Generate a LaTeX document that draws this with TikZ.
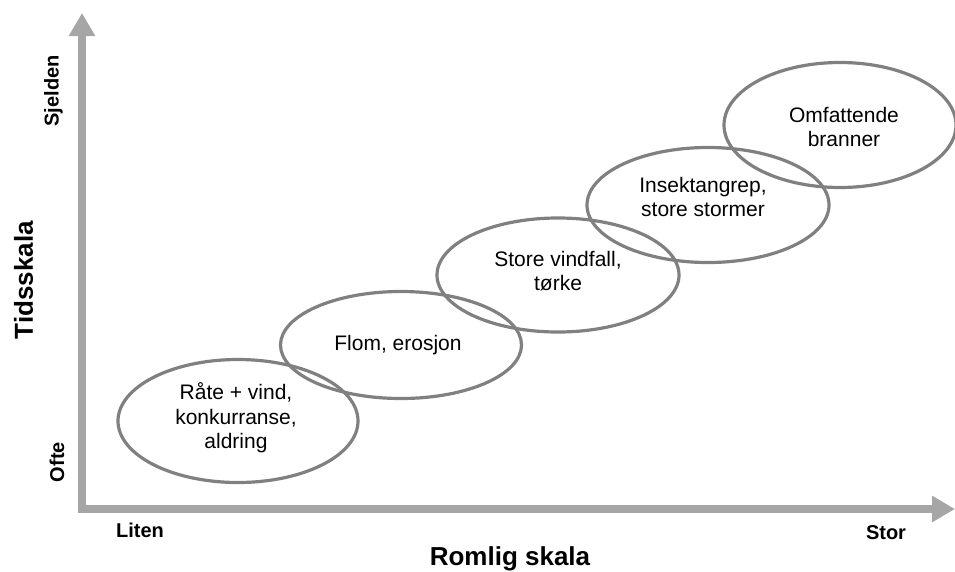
\documentclass[tikz,border=0pt]{standalone}
\usepackage{fontspec}
\setmainfont{Liberation Sans}
\usetikzlibrary{arrows.meta,shapes.geometric}
\definecolor{axisgray}{HTML}{A6A6A6}
\definecolor{ellgray}{HTML}{808080}
\begin{document}
\begin{tikzpicture}[x=1pt,y=-1pt,
  axisline/.style={draw=axisgray,line width=8pt,line join=miter,
    {Triangle[width=25pt,length=23pt]}-{Triangle[width=25pt,length=23pt]}},
  scaleell/.style={ellipse,draw=ellgray,line width=3.2pt,inner sep=0pt},
  elltext/.style={align=center,font=\fontsize{21}{24.5}\selectfont},
  axlabel/.style={font=\bfseries\fontsize{20}{24}\selectfont},
  axtitle/.style={font=\bfseries\fontsize{26}{30}\selectfont}]
\useasboundingbox (0,0) rectangle (955,571);
% axes
\coordinate (ytip) at (82,13);
\coordinate (corner) at (82,509);
\coordinate (xtip) at (955,509);
\draw[axisline] (ytip) -- (corner) -- (xtip);
% ellipses
\node[scaleell,minimum width=240pt,minimum height=123pt] (e1) at (238,421) {};
\node[scaleell,minimum width=241pt,minimum height=107pt] (e2) at (401,345) {};
\node[scaleell,minimum width=242pt,minimum height=114pt] (e3) at (558,275) {};
\node[scaleell,minimum width=242pt,minimum height=115pt] (e4) at (708,205) {};
\node[scaleell,minimum width=232pt,minimum height=125pt] (e5) at (840,125) {};
% texts
\node[elltext] (t1) at (236,418) {Råte + vind,\\konkurranse,\\aldring};
\node[elltext] (t2) at (398,345) {Flom, erosjon};
\node[elltext] (t3) at (558,271) {Store vindfall,\\tørke};
\node[elltext] (t4) at (703,197) {Insektangrep,\\store stormer};
\node[elltext] (t5) at (844,127) {Omfattende\\branner};
% labels
\node[axlabel,rotate=90] (sj) at (53.5,91) {Sjelden};
\node[axlabel,rotate=90] (of) at (57,462) {Ofte};
\node[axtitle,rotate=90] (ts) at (23.5,280) {Tidsskala};
\node[axlabel,anchor=base] (li) at (140,537) {Liten};
\node[axlabel,anchor=base] (st) at (886,539) {Stor};
\node[axtitle,anchor=base] (rs) at (510,565) {Romlig skala};
\end{tikzpicture}
\end{document}
